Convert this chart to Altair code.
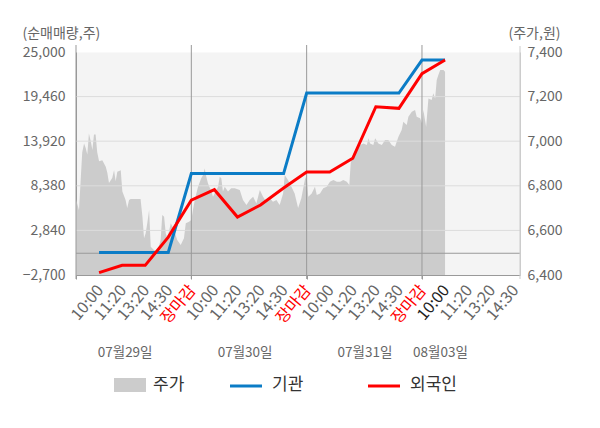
import altair as alt
import pandas as pd

FONT = "Noto Sans CJK KR"

# ---- data ----
tick_labels = ["10:00", "11:20", "13:20", "14:30", "장마감"] * 3 + ["10:00", "11:20", "13:20", "14:30"]
tick_pos = list(range(1, 20))
date_labels = ["07월29일", "07월30일", "07월31일", "08월03일"]
date_pos = [2.13, 7.33, 12.53, 15.8]
day_breaks = [0, 5, 10, 15]

line_slots = list(range(1, 17))
inst = [100, 100, 100, 100, 9900, 9900, 9900, 9900, 9900, 19900, 19900, 19900, 19900, 19900, 24000, 24000]
foreign = [-2400, -1500, -1500, 2000, 6600, 7900, 4500, 6000, 8100, 10100, 10100, 11800, 18200, 18000, 22300, 24000]

price_slot = [
    0.00, 0.13, 0.20, 0.27, 0.35, 0.42, 0.49, 0.56, 0.64, 0.71, 0.78, 0.85, 0.92, 1.00, 1.14, 1.29, 1.36,
    1.43, 1.57, 1.65, 1.72, 1.79, 1.94, 2.01, 2.15, 2.22, 2.30, 2.37, 2.80, 2.88, 2.95, 3.02, 3.09, 3.17,
    3.24, 3.38, 3.53, 3.67, 3.74, 3.82, 3.89, 3.96, 4.11, 4.25, 4.39, 4.54, 4.68, 4.76, 4.90, 5.00,
    5.07, 5.15, 5.29, 5.43, 5.51, 5.58, 5.65, 5.72, 5.87, 5.94, 6.01, 6.16, 6.23, 6.30, 6.37, 6.45, 6.59,
    6.73, 6.88, 7.10, 7.24, 7.39, 7.53, 7.68, 7.82, 7.97, 8.11, 8.25, 8.40, 8.54, 8.69, 8.83, 8.98, 9.05,
    9.19, 9.34, 9.48, 9.63, 9.77, 9.92, 10.00,
    10.07, 10.22, 10.36, 10.44, 10.58, 10.72, 10.87, 11.01, 11.16, 11.31, 11.45, 11.59, 11.74, 11.85,
    11.91, 12.03, 12.17, 12.32, 12.46, 12.61, 12.68, 12.75, 12.89, 12.97, 13.11, 13.26, 13.40, 13.54,
    13.69, 13.83, 13.98, 14.12, 14.19, 14.34, 14.41, 14.56, 14.70, 14.77, 14.92, 15.00,
    15.06, 15.18, 15.28, 15.42, 15.49, 15.57, 15.64, 15.71, 15.79, 15.93, 16.00,
]
price = [
    6740, 6690, 6820, 6950, 6990, 6970, 6940, 7035, 7000, 6960, 7030, 7030, 6950, 6910, 6915, 6885, 6857,
    6812, 6835, 6870, 6820, 6863, 6870, 6775, 6736, 6700, 6736, 6741, 6741, 6661, 6565, 6587, 6632, 6691,
    6527, 6512, 6505, 6557, 6669, 6661, 6587, 6565, 6632, 6602, 6557, 6535, 6565, 6632, 6639, 6647,
    6691, 6736, 6796, 6834, 6848, 6878, 6841, 6811, 6775, 6751, 6766, 6796, 6841, 6834, 6775, 6796, 6775,
    6789, 6789, 6781, 6736, 6714, 6736, 6751, 6721, 6781, 6751, 6729, 6744, 6729, 6736, 6714, 6766, 6848,
    6826, 6796, 6766, 6700, 6744, 6826, 6848,
    6751, 6766, 6796, 6759, 6766, 6789, 6796, 6818, 6826, 6818, 6818, 6826, 6818, 6804,
    6901, 6946, 6968, 6983, 6990, 6983, 7013, 6990, 6983, 7013, 6990, 6983, 7005, 7005,
    6983, 6975, 7020, 7050, 7087, 7073, 7110, 7132, 7140, 7110, 7103, 7080,
    7140, 7065, 7192, 7185, 7215, 7192, 7274, 7297, 7319, 7319, 7311,
]

left_ticks = [-2700, 2840, 8380, 13920, 19460, 25000]
right_ticks = [6400, 6600, 6800, 7000, 7200, 7400]

legend_names = ["주가", "기관", "외국인"]

# ---- tables ----
price_df = pd.DataFrame({"slot": price_slot, "price": price})
lines_df = pd.DataFrame({"slot": line_slots, "inst": inst, "foreign": foreign})
ticks_df = pd.DataFrame({"slot": tick_pos, "lab": tick_labels})
dates_df = pd.DataFrame({"slot": date_pos, "lab": date_labels})
days_df = pd.DataFrame({"slot": day_breaks})
grid_df = pd.DataFrame({"v": left_ticks[1:-1]})
zero_df = pd.DataFrame({"v": [0]})
one = pd.DataFrame({"a": [0]})

W, H = 444, 223
BLUE = "#0b7cc6"
RED = "#ff0000"
GRAY_TXT = "#666666"

xscale = alt.Scale(domain=[0, 19.25], nice=False, zero=False)
xaxis = alt.Axis(values=day_breaks, labels=False, ticks=True, tickSize=4, tickColor="#999999",
                 domainColor="#999999", grid=False, title=None)
lscale = alt.Scale(domain=[-2700, 25000], nice=False, zero=False)
laxis = alt.Axis(orient="left", values=left_ticks, format=",d", grid=False, ticks=False,
                 domainColor="#999999", labelColor=GRAY_TXT, labelFont=FONT, labelFontSize=14,
                 labelPadding=11, title="(순매매량,주)", titleAngle=0, titleAlign="left",
                 titleBaseline="middle", titleX=-54, titleY=-19, titleFont=FONT, titleFontSize=14,
                 titleFontWeight="normal", titleColor=GRAY_TXT)
rscale = alt.Scale(domain=[6400, 7400], nice=False, zero=False)
raxis = alt.Axis(orient="right", values=right_ticks, format=",d", grid=False, ticks=False,
                 domainColor="#cccccc", labelColor=GRAY_TXT, labelFont=FONT, labelFontSize=14,
                 labelPadding=7, title="(주가,원)", titleAngle=0, titleAlign="left",
                 titleBaseline="middle", titleX=-12, titleY=-19, titleFont=FONT, titleFontSize=14,
                 titleFontWeight="normal", titleColor=GRAY_TXT)

area = alt.Chart(price_df).mark_area(color="#cccccc", opacity=1).encode(
    x=alt.X("slot:Q", scale=xscale, axis=xaxis),
    y=alt.Y("price:Q", scale=rscale, axis=raxis),
    y2=alt.Y2Datum(6400),
)

grid = alt.Chart(grid_df).mark_rule(color="#dcdcdc", strokeWidth=1).encode(
    y=alt.Y("v:Q", scale=lscale, axis=laxis)
)
zero = alt.Chart(zero_df).mark_rule(color="#999999", strokeWidth=1).encode(
    y=alt.Y("v:Q", scale=lscale, axis=laxis)
)
days = alt.Chart(days_df).mark_rule(color="#999999", strokeWidth=1).encode(
    x=alt.X("slot:Q", scale=xscale, axis=xaxis),
    y=alt.value(-7), y2=alt.value(H + 4),
)
right_edge = alt.Chart(one).mark_rule(color="#cccccc", strokeWidth=1).encode(
    x=alt.value(W), y=alt.value(-6), y2=alt.value(H + 4)
)
blue_line = alt.Chart(lines_df).mark_line(color=BLUE, strokeWidth=3).encode(
    x=alt.X("slot:Q", scale=xscale, axis=xaxis),
    y=alt.Y("inst:Q", scale=lscale, axis=laxis),
)
red_line = alt.Chart(lines_df).mark_line(color=RED, strokeWidth=3).encode(
    x=alt.X("slot:Q", scale=xscale, axis=xaxis),
    y=alt.Y("foreign:Q", scale=lscale, axis=laxis),
)
xlabels = alt.Chart(ticks_df).transform_calculate(
    col="datum.lab == '장마감' ? '#ff0000' : (datum.slot == 16 ? '#222222' : '#666666')"
).mark_text(angle=310, align="right", baseline="middle", font=FONT, fontSize=16, dx=2).encode(
    x=alt.X("slot:Q", scale=xscale, axis=xaxis),
    y=alt.value(H + 14),
    text="lab:N",
    color=alt.Color("col:N", scale=None),
)
dlabels = alt.Chart(dates_df).mark_text(align="center", baseline="middle", font=FONT,
                                         fontSize=13.5, color=GRAY_TXT).encode(
    x=alt.X("slot:Q", scale=xscale, axis=xaxis),
    y=alt.value(301),
    text="lab:N",
)

# legend
leg_rect = alt.Chart(one).mark_rect(color="#cccccc").encode(
    x=alt.value(38), x2=alt.value(70), y=alt.value(326), y2=alt.value(340))
leg_blue = alt.Chart(one).mark_rule(color=BLUE, strokeWidth=3).encode(
    x=alt.value(154), x2=alt.value(186), y=alt.value(334))
leg_red = alt.Chart(one).mark_rule(color=RED, strokeWidth=3).encode(
    x=alt.value(292), x2=alt.value(324), y=alt.value(334))
leg_txt = []
for name, xp in zip(legend_names, [77, 196, 334]):
    leg_txt.append(alt.Chart(one).mark_text(align="left", baseline="middle", font=FONT,
                                            fontSize=17, color="#333333").encode(
        x=alt.value(xp), y=alt.value(333), text=alt.value(name)))

front = alt.layer(grid, zero, days, right_edge, blue_line, red_line, xlabels, dlabels,
                  leg_rect, leg_blue, leg_red, *leg_txt)

chart = alt.layer(area, front).resolve_scale(y="independent").properties(
    width=W, height=H,
    autosize=alt.AutoSizeParams(type="none"),
    padding={"left": 68, "top": 44, "right": 72, "bottom": 153},
).configure_view(fill="#f4f4f4", stroke="transparent")

chart.save("out.html", embed_options={"renderer": "svg", "actions": False})
